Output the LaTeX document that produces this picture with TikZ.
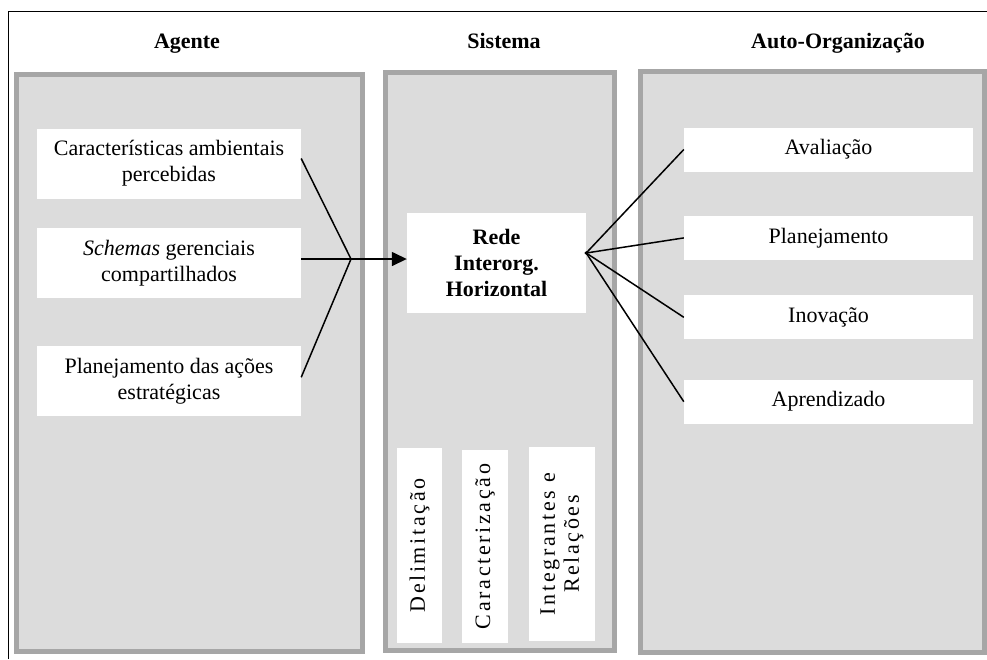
\documentclass[tikz,border=0pt]{standalone}
\usepackage{fontspec}
\setmainfont{Liberation Serif}
\usepackage{xcolor}
\usepackage{tikz}
\usetikzlibrary{arrows.meta, positioning}
\definecolor{panelfill}{HTML}{DCDCDC}
\definecolor{panelline}{HTML}{A6A6A6}

\begin{document}
\begin{tikzpicture}[
    x=1pt, y=-1pt,
    font=\fontsize{22}{26}\selectfont,
    panel/.style={rectangle, draw=panelline, fill=panelfill, line width=5pt, inner sep=0pt},
    header/.style={anchor=base, font=\fontsize{22}{26}\selectfont\bfseries},
    whitebox/.style={rectangle, fill=white, inner sep=0pt, align=center},
    sidebox/.style={whitebox, minimum width=264pt, minimum height=70pt},
    outbox/.style={whitebox, minimum width=289pt, minimum height=44pt},
    vertbox/.style={whitebox, rotate=90, font=\fontsize{22}{24}\selectfont\addfontfeature{LetterSpace=12}},
    conn/.style={line width=1.5pt, black},
    arr/.style={-{Triangle[length=15pt, width=14pt]}, line width=1.5pt, black}
]
\useasboundingbox (0,0) rectangle (987,659);

% frame
\draw[line width=1pt] (8,659) -- (8,11) -- (987,11);

% headers
\node[header] (hagente) at (187,48) {Agente};
\node[header] (hsistema) at (504,48) {Sistema};
\node[header] (hauto) at (838,48) {Auto-Organização};

% panels
\node[panel, minimum width=346pt, minimum height=577pt] (agente) at (189.5,363) {};
\node[panel, minimum width=229pt, minimum height=578pt] (sistema) at (500,361.5) {};
\node[panel, minimum width=344pt, minimum height=581pt] (autoorg) at (812.5,362) {};

% agente
\node[sidebox] (caract) at (169,163.5) {Características ambientais\\percebidas};
\node[sidebox, below=29pt of caract] (schemas) {\textit{Schemas} gerenciais\\compartilhados};
\node[sidebox, below=48pt of schemas] (planacoes) {Planejamento das ações\\estratégicas};

% sistema
\node[whitebox, minimum width=179pt, minimum height=100pt, font=\fontsize{22}{26}\selectfont\bfseries] (rede) at (496.5,263) {Rede\\Interorg.\\Horizontal};
\node[vertbox, minimum width=195pt, minimum height=45pt] (delim) at (419.5,545.5) {Delimitação};
\node[vertbox, minimum width=193pt, minimum height=46pt] (carac) at (485,546.5) {Caracterização};
\node[vertbox, minimum width=194pt, minimum height=66pt] (integ) at (562,544) {Integrantes e\\Relações};

% auto-organizacao
\node[outbox] (aval) at (828.5,149.5) {Avaliação};
\node[outbox, below=44pt of aval] (planej) {Planejamento};
\node[outbox, below=35pt of planej] (inov) {Inovação};
\node[outbox, below=40pt of inov] (aprend) {Aprendizado};

% connectors
\coordinate (hub) at (351,259);
\draw[conn] ([yshift=5pt]caract.east) -- (hub);
\draw[conn] (schemas.east |- hub) -- (hub);
\draw[conn] ([yshift=4pt]planacoes.east) -- (hub);
\draw[arr] (hub) -- (hub -| rede.west);

\coordinate (fan) at ([yshift=10pt]rede.east);
\fill (fan) circle (1.8pt);
\foreach \t in {aval, planej, inov, aprend}
    \draw[conn] (fan) -- (\t.west);

\end{tikzpicture}
\end{document}
